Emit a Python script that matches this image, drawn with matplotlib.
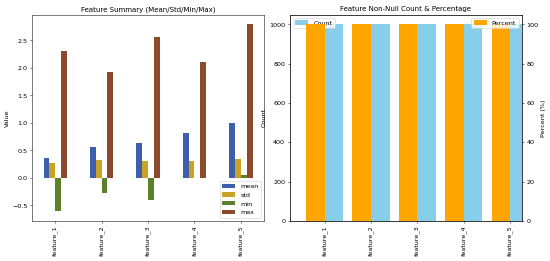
import numpy as np
import matplotlib
matplotlib.use("Agg")
from matplotlib import pyplot as plt

features = ["feature_1", "feature_2", "feature_3", "feature_4", "feature_5"]

# summary statistics
mean_vals = [0.36, 0.57, 0.63, 0.82, 0.99]
std_vals = [0.27, 0.33, 0.31, 0.31, 0.35]
min_vals = [-0.61, -0.28, -0.41, 0.0, 0.05]
max_vals = [2.30, 1.93, 2.56, 2.11, 2.80]

# non-null counts and percentages (right panel)
counts = [1000, 1000, 1000, 1000, 1000]
percents = [100.0, 100.0, 100.0, 100.0, 100.0]

stat_names = ["mean", "std", "min", "max"]
stat_colors = ["#3d5fae", "#c9a424", "#5c812c", "#8c4a2c"]

fig, (ax1, ax2) = plt.subplots(1, 2, figsize=(12, 5.7), dpi=550 / 12)
fig.subplots_adjust(left=0.058, right=0.949, bottom=0.154, top=0.943, wspace=0.11)

x = np.arange(len(features))

# grouped bars, total group width 0.5 like pandas
series = [mean_vals, std_vals, min_vals, max_vals]
w = 0.5 / len(series)
for i, (name, vals) in enumerate(zip(stat_names, series)):
    ax1.bar(x - 0.25 + w * (i + 0.5), vals, width=w, color=stat_colors[i], label=name)
ax1.set_xlim(-0.5, len(features) - 0.5)
ax1.set_xticks(x)
ax1.set_xticklabels(features, rotation=90)
ax1.set_ylabel("Value")
ax1.set_title("Feature Summary (Mean/Std/Min/Max)", fontsize=11)
ax1.legend(loc="lower right")

# count on left axis, percent on twin axis
ax2.bar(x, counts, width=0.4, align="edge", color="skyblue", label="Count")
ax2.set_ylabel("Count")
ax2.set_ylim(0, 1050)
ax2b = ax2.twinx()
ax2b.bar(x - 0.4, percents, width=0.4, align="edge", color="orange", label="Percent")
ax2b.set_ylabel("Percent (%)")
ax2b.set_ylim(0, 105)
ax2.set_xlim(-0.75, 4.25)
ax2.set_xticks(x)
ax2.set_xticklabels(features, rotation=90)
ax2.set_title("Feature Non-Null Count & Percentage", fontsize=11)
ax2.legend(loc="upper left")
ax2b.legend(loc="upper right")

plt.savefig("out.png", dpi=550 / 12)
